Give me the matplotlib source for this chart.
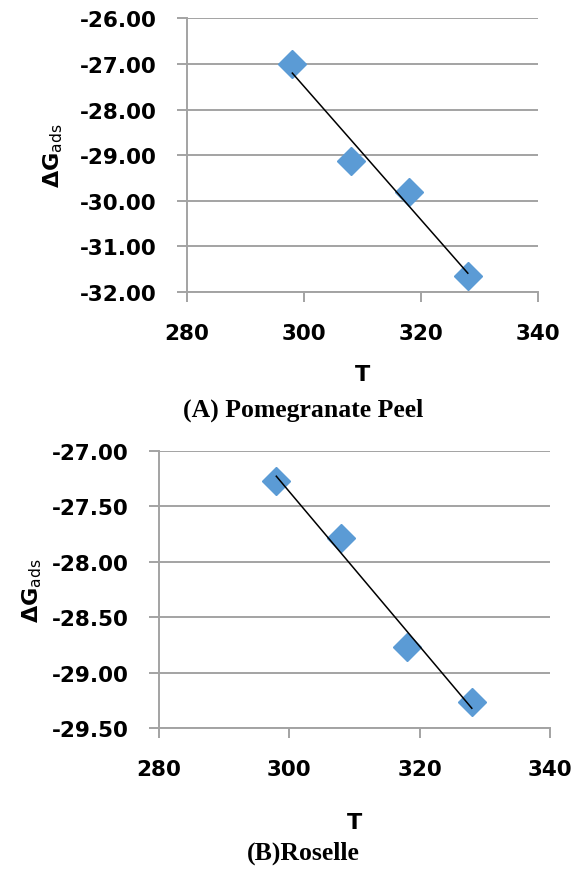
import numpy as np
import matplotlib
matplotlib.use("Agg")
from matplotlib import pyplot as plt

# Adsorption free energy vs temperature
temp = [298, 308, 318, 328]
dg_peel = [-27.00, -29.12, -29.80, -31.65]
dg_roselle = [-27.27, -27.79, -28.77, -29.27]

peel_yticks = [-26.0, -27.0, -28.0, -29.0, -30.0, -31.0, -32.0]
roselle_yticks = [-27.0, -27.5, -28.0, -28.5, -29.0, -29.5]
xticks = [280, 300, 320, 340]

BLUE = "#5B9BD5"
GREY = "#a3a3a3"

plt.rcParams['axes.unicode_minus'] = False
plt.rcParams['font.family'] = 'DejaVu Sans'

fig = plt.figure(figsize=(5.85, 8.7), dpi=100)


def panel(rect, x, y, yticks, ylab_x, xlab_y):
    ax = fig.add_axes(rect)
    ax.plot(x, y, 'D', color=BLUE, ms=14.5, mec=BLUE, zorder=3)
    k, b = np.polyfit(x, y, 1)
    xf = np.array([x[0], x[-1]])
    ax.plot(xf, k * xf + b, color='black', lw=1.1, zorder=4)

    ax.set_xlim(xticks[0], xticks[-1])
    ax.set_ylim(min(yticks), max(yticks))
    ax.set_xticks(xticks)
    ax.set_yticks(yticks)
    ax.set_yticklabels(["%.2f" % v for v in yticks])
    ax.grid(axis='y', color=GREY, lw=1.4)
    ax.set_axisbelow(True)
    for s in ['top', 'right']:
        ax.spines[s].set_visible(False)
    for s in ['left', 'bottom']:
        ax.spines[s].set_color(GREY)
        ax.spines[s].set_linewidth(1.4)
    ax.tick_params(axis='both', direction='out', length=7, width=1.4,
                   color=GREY, labelsize=15.5)
    ax.tick_params(axis='y', pad=15)
    ax.tick_params(axis='x', pad=15)
    for t in ax.get_xticklabels() + ax.get_yticklabels():
        t.set_fontweight('bold')

    ax.set_xlabel("T", fontsize=16, fontweight='bold')
    ax.xaxis.set_label_coords(0.5, xlab_y)
    ax.xaxis.label.set_va('center')
    ax.set_ylabel(r"ΔG$_{\mathrm{ads}}$", fontsize=16, fontweight='bold')
    ax.yaxis.set_label_coords(ylab_x, 0.5)
    ax.yaxis.label.set_va('center')
    return ax


panel([0.3197, 0.6632, 0.600, 0.3144], temp, dg_peel, peel_yticks, -0.38, -0.30)
panel([0.2718, 0.1621, 0.6684, 0.3184], temp, dg_roselle, roselle_yticks, -0.325, -0.34)

fig.text(303 / 585, 1 - 410 / 870, "(A) Pomegranate Peel", ha='center', va='center',
         family='Liberation Serif', fontweight='bold', fontsize=18.5)
fig.text(303 / 585, 1 - 853 / 870, "(B)Roselle", ha='center', va='center',
         family='Liberation Serif', fontweight='bold', fontsize=18.5)

fig.savefig("out.png", dpi=100)
